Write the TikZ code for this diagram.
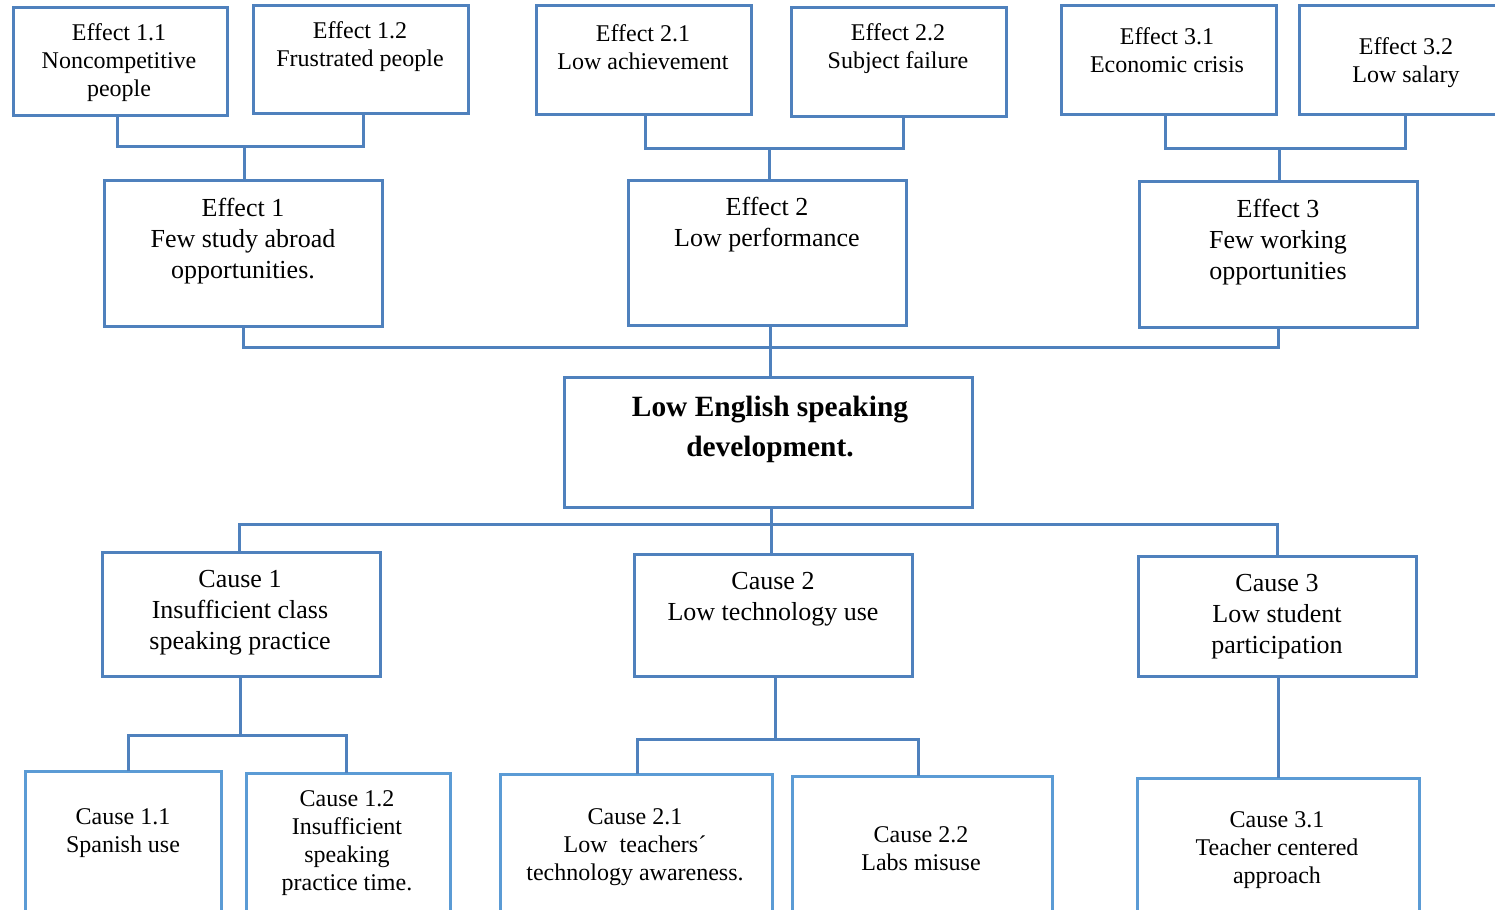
\documentclass[tikz,border=0pt]{standalone}
\usepackage{fontspec}
\setmainfont{Liberation Serif}
\definecolor{bord}{HTML}{4F81BD}
\definecolor{bordl}{HTML}{5B9BD5}
\newcommand\mybox[6][box]{\node[#1, minimum width={(#4-#2)*0.5pt}, minimum height={(#6-#3)*0.5pt}] (#5) at ({(#2+#4)/2},{(#3+#6)/2}) {};}
\tikzset{
  box/.style={draw=bord, line width=1.5pt, rectangle, inner sep=0pt, outer sep=0pt},
  boxl/.style={draw=bordl, line width=1.5pt, rectangle, inner sep=0pt, outer sep=0pt},
  conn/.style={draw=bord, line width=1.5pt},
  small/.style={align=center, inner sep=0pt, yshift=-1.5pt, font=\fontsize{12}{14}\selectfont},
  mid/.style={align=center, inner sep=0pt, yshift=-1.5pt, font=\fontsize{13}{15.5}\selectfont},
  big/.style={align=center, inner sep=0pt, yshift=-1.5pt, font=\fontsize{14.7}{20}\selectfont\bfseries},
}
\begin{document}
\begin{tikzpicture}[x=0.5pt,y=-0.5pt]
\useasboundingbox (0,0) rectangle (1495,910);
\clip (0,0) rectangle (1495,910);
% top row
\mybox{13}{7}{227}{e11}{115}
\mybox{253}{5}{468}{e12}{113}
\mybox{536}{5}{751}{e21}{114}
\mybox{791}{7}{1006}{e22}{116}
\mybox{1061}{5}{1276}{e31}{114}
\mybox{1299}{5}{1530}{e32}{114}
% effects
\mybox{104}{180}{382}{e1}{326}
\mybox{628}{180}{906}{e2}{325}
\mybox{1139}{181}{1417}{e3}{327}
% center
\mybox{564}{377}{972}{ctr}{507}
% causes
\mybox{102}{552}{380}{c1}{676}
\mybox{634}{554}{912}{c2}{676}
\mybox{1138}{556}{1416}{c3}{676}
% sub causes
\mybox[boxl]{25}{771}{221}{c11}{940}
\mybox[boxl]{246}{773}{450}{c12}{940}
\mybox[boxl]{500}{774}{772}{c21}{940}
\mybox[boxl]{792}{776}{1052}{c22}{940}
\mybox[boxl]{1137}{778}{1419}{c31}{940}

% texts
\node[small] (t11) at (119,60) {Effect 1.1\\Noncompetitive\\people};
\node[small] (t12) at (360,44) {Effect 1.2\\Frustrated people};
\node[small] (t21) at (643,44) {Effect 2.1\\Low achievement};
\node[small] (t22) at (898,46) {Effect 2.2\\Subject failure};
\node[small] (t31) at (1167,47) {Effect 3.1\\Economic crisis};
\node[small] (t32) at (1406,60) {Effect 3.2\\Low salary};
\node[mid] (t1) at (243,238) {Effect 1\\Few study abroad\\opportunities.};
\node[mid] (t2) at (767,222) {Effect 2\\Low performance};
\node[mid] (t3) at (1278,239) {Effect 3\\Few working\\opportunities};
\node[big] (tc) at (770,426) {Low English speaking\\development.};
\node[mid] (u1) at (240,610) {Cause 1\\Insufficient class\\speaking practice};
\node[mid] (u2) at (773,596) {Cause 2\\Low technology use};
\node[mid] (u3) at (1277,614) {Cause 3\\Low student\\participation};
\node[small] (u11) at (123,830) {Cause 1.1\\Spanish use};
\node[small] (u12) at (347,840) {Cause 1.2\\Insufficient\\speaking\\practice time.};
\node[small] (u21) at (635,844) {Cause 2.1\\Low\ \ teachers´\\technology awareness.};
\node[small] (u22) at (921,846) {Cause 2.2\\Labs misuse};
\node[small] (u31) at (1277,847) {Cause 3.1\\Teacher centered\\approach};

% connectors top
\coordinate (j1) at (244,146);
\coordinate (j2) at (769,148);
\coordinate (j3) at (1279,148);
\draw[conn] (e11.south -| 117,0) |- (j1) -| (e12.south -| 363,0);
\draw[conn] (j1) -- (j1 |- e1.north);
\draw[conn] (e21.south -| 645,0) |- (j2) -| (e22.south -| 903,0);
\draw[conn] (j2) -- (j2 |- e2.north);
\draw[conn] (e31.south -| 1165,0) |- (j3) -| (e32.south -| 1405,0);
\draw[conn] (j3) -- (j3 |- e3.north);
% effects to center
\coordinate (jE) at (770,347);
\draw[conn] (e1.south) |- (jE) -| (e3.south);
\draw[conn] (jE |- e2.south) -- (jE |- ctr.north);
% center to causes
\coordinate (jC) at (771,524);
\draw[conn] (jC |- ctr.south) -- (jC |- c2.north);
\draw[conn] (c1.north -| 239,0) |- (jC) -| (c3.north);
% causes to sub causes
\coordinate (k1) at (240,735);
\draw[conn] (k1 |- c1.south) -- (k1);
\draw[conn] (c11.north -| 128,0) |- (k1) -| (c12.north -| 346,0);
\coordinate (k2) at (775,739);
\draw[conn] (k2 |- c2.south) -- (k2);
\draw[conn] (c21.north -| 637,0) |- (k2) -| (c22.north -| 918,0);
\draw[conn] (c3.south -| 1278,0) -- (c31.north -| 1278,0);
\end{tikzpicture}
\end{document}
